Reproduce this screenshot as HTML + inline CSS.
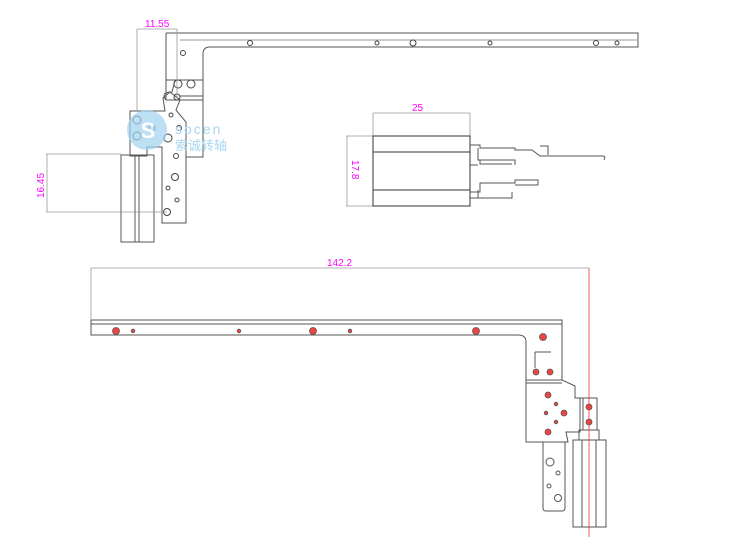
<!DOCTYPE html>
<html><head><meta charset="utf-8"><style>body{margin:0;background:#fff}svg{display:block}</style></head><body>
<svg width="750" height="550" viewBox="0 0 750 550" xmlns="http://www.w3.org/2000/svg" font-family="Liberation Sans, sans-serif">
<g fill="none" stroke="#555" stroke-width="1">
<path d="M166,33 H638 V47 H210 Q203,47 203,54 V157 H186"/>
<line x1="166" y1="33" x2="166" y2="80"/>
<line x1="180" y1="40" x2="638" y2="40" stroke="#999"/>
<rect x="166" y="80" width="37" height="20"/>
<line x1="180" y1="96" x2="203" y2="96"/>
<path d="M166,100 Q160,92 172,92 L175,80"/>
<path d="M130,111 H165 L163,98 L170,92 L180,100 L176,110 L186,122 V223 H162 V147 H147 V156 H130 Z"/>
<rect x="121" y="155" width="33" height="87"/>
<line x1="135" y1="155" x2="135" y2="242"/><line x1="139" y1="155" x2="139" y2="242"/>
<g stroke="#444">
<circle cx="178" cy="84" r="4"/><circle cx="191" cy="84" r="4"/><circle cx="183" cy="53" r="2.5"/>
<circle cx="250" cy="43" r="2.5"/><circle cx="377" cy="43" r="2"/><circle cx="413" cy="43" r="3"/><circle cx="490" cy="43" r="2"/><circle cx="596" cy="43" r="2.5"/><circle cx="617" cy="43" r="2"/>
<circle cx="177" cy="97" r="3"/><circle cx="137" cy="120" r="4"/><circle cx="137" cy="136" r="4"/><circle cx="152" cy="128" r="3"/>
<circle cx="171" cy="115" r="2"/><circle cx="179" cy="128" r="2.5"/><circle cx="168" cy="138" r="4"/><circle cx="176" cy="156" r="2.5"/>
<circle cx="175" cy="177" r="3.5"/><circle cx="168" cy="188" r="2"/><circle cx="177" cy="200" r="2"/><circle cx="167" cy="212" r="3.5"/>
</g>
<g stroke="#999" stroke-width="0.8">
<line x1="137" y1="29" x2="177" y2="29"/><line x1="137" y1="29" x2="137" y2="111"/><line x1="177" y1="29" x2="177" y2="97"/>
<line x1="46" y1="154" x2="121" y2="154"/><line x1="46" y1="212" x2="167" y2="212"/><line x1="47" y1="154" x2="47" y2="212"/>
<line x1="373" y1="113" x2="470" y2="113"/><line x1="373" y1="113" x2="373" y2="136"/><line x1="470" y1="113" x2="470" y2="136"/>
<line x1="346" y1="136" x2="373" y2="136"/><line x1="346" y1="206" x2="373" y2="206"/><line x1="347" y1="136" x2="347" y2="206"/>
</g>
<rect x="373" y="136" width="97" height="70" stroke="#333"/>
<line x1="373" y1="152" x2="470" y2="152" stroke="#333"/><line x1="373" y1="190" x2="470" y2="190" stroke="#333"/>
<path d="M470,145 H480 V148 H515 V150 H532 L540,156 H603 Q606,156 604,160 M540,146 H548 V155"/>
<path d="M478,148 V160 H515 V165 M480,160 V164 H512"/>
<path d="M470,192 H480 V183 H515 V180 H538 V185 H515 M478,190 V198 H512 V192"/>
<path d="M470,165 H478 M470,198 H478"/>
<path d="M91,320 H562 V380 L575,386 V398 L580,398 V432 L566,432 L568,442 H526 V342 Q526,335 518,335 H91 Z"/>
<line x1="91" y1="324" x2="562" y2="324"/>
<line x1="526" y1="380" x2="562" y2="380"/><line x1="526" y1="383" x2="562" y2="383"/>
<path d="M535,352 H551 M535,352 V368"/>
<rect x="580" y="398" width="17" height="32"/><line x1="583" y1="398" x2="583" y2="430"/>
<path d="M543,442 V508 Q543,511 546,511 H562 Q565,511 565,508 V442"/>
<rect x="573" y="440" width="33" height="87"/><line x1="582" y1="440" x2="582" y2="527"/><line x1="596" y1="440" x2="596" y2="527"/>
<rect x="579" y="430" width="20" height="10"/>
<circle cx="550" cy="462" r="4"/><circle cx="558" cy="473" r="2"/><circle cx="549" cy="486" r="2"/><circle cx="558" cy="498" r="3.5"/>
</g>
<g stroke="#555" fill="#e44" stroke-width="0.8">
<circle cx="116" cy="331" r="3.5"/><circle cx="133" cy="331" r="1.8"/><circle cx="239" cy="331" r="1.8"/><circle cx="313" cy="331" r="3.5"/><circle cx="350" cy="331" r="1.8"/><circle cx="476" cy="331" r="3.5"/>
<circle cx="543" cy="337" r="3.5"/><circle cx="536" cy="372" r="3"/><circle cx="550" cy="372" r="3"/>
<circle cx="548" cy="395" r="3"/><circle cx="556" cy="404" r="1.8"/><circle cx="564" cy="413" r="3"/><circle cx="546" cy="413" r="1.8"/><circle cx="556" cy="422" r="1.8"/><circle cx="548" cy="432" r="3"/>
<circle cx="589" cy="407" r="3"/><circle cx="589" cy="422" r="3"/>
</g>
<g stroke="#999" stroke-width="0.8" fill="none">
<line x1="91" y1="268" x2="589" y2="268"/><line x1="91" y1="268" x2="91" y2="320"/>
</g>
<line x1="589" y1="268" x2="589" y2="537" stroke="#e33" stroke-width="0.8"/>
<circle cx="147" cy="130" r="20" fill="#9fd2f0" opacity="0.7"/>
<text x="148" y="138" font-size="22" fill="#fff" text-anchor="middle" font-weight="bold">S</text>
<text x="175" y="134" font-size="14" fill="#a8d6f0" letter-spacing="2">socen</text>
<text x="175" y="150" font-size="13" fill="#a8d6f0" font-family="Noto Sans CJK SC, sans-serif">索诚转轴</text>
<g fill="#f0f" font-size="10">
<text x="145" y="27">11.55</text>
<text x="412" y="111">25</text>
<text x="327" y="266">142.2</text>
<text transform="translate(44,198) rotate(-90)">16.45</text>
<text transform="translate(352,160) rotate(90)">17.8</text>
</g>
</svg>
</body></html>
